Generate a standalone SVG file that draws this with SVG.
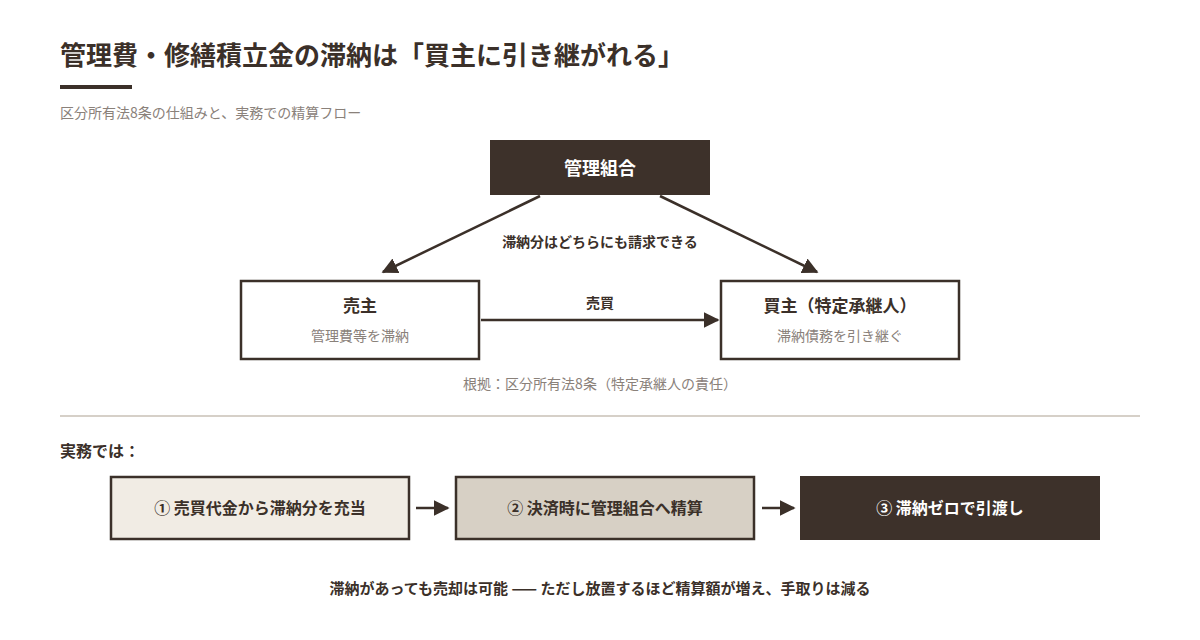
<svg xmlns="http://www.w3.org/2000/svg" width="1200" height="640" viewBox="0 0 1200 640">
<defs>
<style>
text{font-family:"Noto Sans CJK JP","Noto Sans",sans-serif;}
.b{font-weight:700;fill:#3b3029;}
.g{fill:#8a817a;font-size:14px;}
.ctr{text-anchor:middle;}
.box{fill:#ffffff;stroke:#3b3029;stroke-width:2.5;}
.ln{stroke:#3b3029;stroke-width:2.5;fill:none;}
</style>
<marker id="ah" viewBox="0 0 10 10" refX="9" refY="5" markerWidth="6.4" markerHeight="6.4" markerUnits="strokeWidth" orient="auto">
<path d="M0,0 L10,5 L0,10 z" fill="#3b3029"/>
</marker>
</defs>
<rect width="1200" height="640" fill="#ffffff"/>
<g id="header">
<text x="60" y="65" class="b" font-size="26">管理費・修繕積立金の滞納は「買主に引き継がれる」</text>
<rect x="60" y="85" width="72" height="4" fill="#3b3029"/>
<text x="60" y="118" class="g">区分所有法8条の仕組みと、実務での精算フロー</text>
</g>
<g id="connectors">
<line x1="540" y1="196" x2="383" y2="272" class="ln" marker-end="url(#ah)"/>
<line x1="660" y1="196" x2="817" y2="272" class="ln" marker-end="url(#ah)"/>
<line x1="481" y1="320" x2="718" y2="320" class="ln" marker-end="url(#ah)"/>
<line x1="416" y1="508" x2="448" y2="508" class="ln" marker-end="url(#ah)"/>
<line x1="762" y1="508" x2="794" y2="508" class="ln" marker-end="url(#ah)"/>
<text x="600" y="247" class="b ctr" font-size="14">滞納分はどちらにも請求できる</text>
<text x="600" y="308" class="b ctr" font-size="14">売買</text>
</g>
<g id="kanri">
<rect x="490" y="140" width="220" height="55" fill="#3d312a"/>
<text x="600" y="175" class="ctr" font-size="18" font-weight="700" fill="#ffffff">管理組合</text>
</g>
<g id="urinushi">
<rect x="241" y="281" width="238" height="78" class="box"/>
<text x="360" y="312" class="b ctr" font-size="17">売主</text>
<text x="360" y="341" class="g ctr">管理費等を滞納</text>
</g>
<g id="kainushi">
<rect x="721" y="281" width="238" height="78" class="box"/>
<text x="840" y="312" class="b ctr" font-size="17">買主（特定承継人）</text>
<text x="840" y="341" class="g ctr">滞納債務を引き継ぐ</text>
</g>
<text x="600" y="389" class="g ctr">根拠：区分所有法8条（特定承継人の責任）</text>
<line x1="60" y1="416" x2="1140" y2="416" stroke="#d6d0c8" stroke-width="2"/>
<text x="60" y="457" class="b" font-size="16">実務では：</text>
<g id="step1">
<rect x="111" y="477" width="298" height="62" fill="#f1ece4" stroke="#3b3029" stroke-width="2.5"/>
<text x="260" y="514" class="b ctr" font-size="16">① 売買代金から滞納分を充当</text>
</g>
<g id="step2">
<rect x="456" y="477" width="298" height="62" fill="#d7d0c5" stroke="#3b3029" stroke-width="2.5"/>
<text x="605" y="514" class="b ctr" font-size="16">② 決済時に管理組合へ精算</text>
</g>
<g id="step3">
<rect x="800" y="476" width="300" height="64" fill="#3d312a"/>
<text x="950" y="514" class="ctr" font-size="16" font-weight="700" fill="#ffffff">③ 滞納ゼロで引渡し</text>
</g>
<text x="600" y="594" class="b ctr" font-size="15">滞納があっても売却は可能 —— ただし放置するほど精算額が増え、手取りは減る</text>
</svg>
